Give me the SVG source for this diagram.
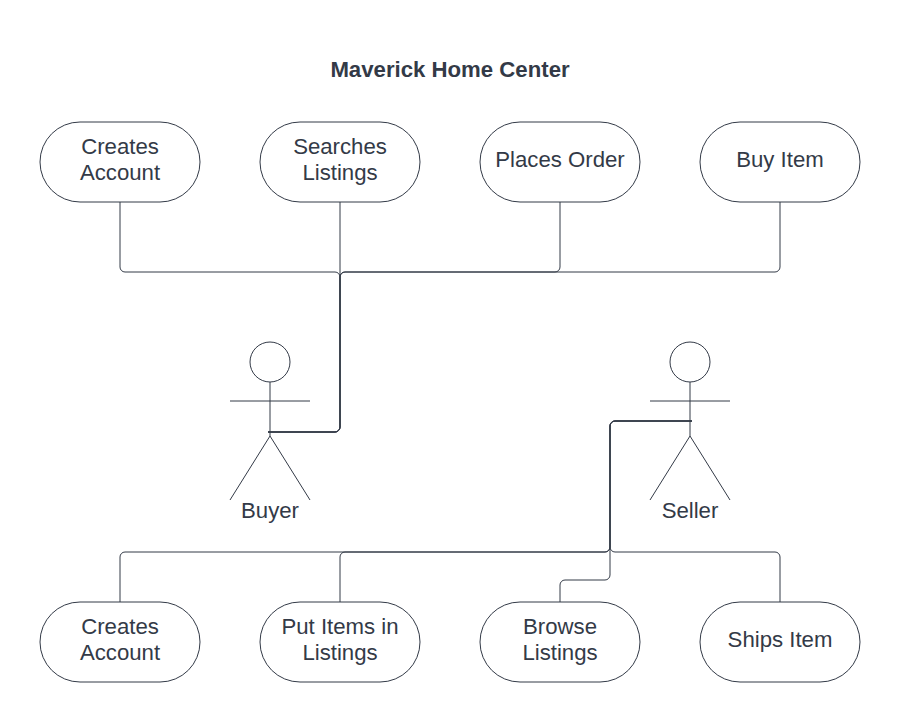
<svg xmlns="http://www.w3.org/2000/svg" width="900" height="722" viewBox="0 0 900 722">
<style>
text{font-family:"Liberation Sans",Arial,sans-serif;fill:#333a47;font-size:22.2px;text-anchor:middle}
.n{fill:#fff;stroke:#333a47;stroke-width:1}
.c{fill:none;stroke:#333a47;stroke-width:1}
.a{fill:none;stroke:#333a47;stroke-width:1}
</style>
<rect width="900" height="722" fill="#fff"/>
<text x="450" y="77" style="font-weight:700">Maverick Home Center</text>
<g id="connectors">
<path class="c" d="M120 202V267a5 5 0 0 0 5 5H335a5 5 0 0 1 5 5V427a5 5 0 0 1-5 5H268"/>
<path class="c" d="M340 202V427a5 5 0 0 1-5 5H268"/>
<path class="c" d="M560 202V267a5 5 0 0 1-5 5H345a5 5 0 0 0-5 5V427a5 5 0 0 1-5 5H268"/>
<path class="c" d="M780 202V267a5 5 0 0 1-5 5H345a5 5 0 0 0-5 5V427a5 5 0 0 1-5 5H268"/>
<path class="c" d="M692 421H615a5 5 0 0 0-5 5V547a5 5 0 0 1-5 5H125a5 5 0 0 0-5 5V602"/>
<path class="c" d="M692 421H615a5 5 0 0 0-5 5V547a5 5 0 0 1-5 5H345a5 5 0 0 0-5 5V602"/>
<path class="c" d="M692 421H615a5 5 0 0 0-5 5V575a5 5 0 0 1-5 5H565a5 5 0 0 0-5 5V602"/>
<path class="c" d="M692 421H615a5 5 0 0 0-5 5V547a5 5 0 0 0 5 5H775a5 5 0 0 1 5 5V602"/>
</g>
<g id="uc1"><rect class="n" x="40" y="122" width="160" height="80" rx="40"/><text x="120" y="154">Creates</text><text x="120" y="180">Account</text></g>
<g id="uc2"><rect class="n" x="260" y="122" width="160" height="80" rx="40"/><text x="340" y="154">Searches</text><text x="340" y="180">Listings</text></g>
<g id="uc3"><rect class="n" x="480" y="122" width="160" height="80" rx="40"/><text x="560" y="167">Places Order</text></g>
<g id="uc4"><rect class="n" x="700" y="122" width="160" height="80" rx="40"/><text x="780" y="167">Buy Item</text></g>
<g id="uc5"><rect class="n" x="40" y="602" width="160" height="80" rx="40"/><text x="120" y="634">Creates</text><text x="120" y="660">Account</text></g>
<g id="uc6"><rect class="n" x="260" y="602" width="160" height="80" rx="40"/><text x="340" y="634">Put Items in</text><text x="340" y="660">Listings</text></g>
<g id="uc7"><rect class="n" x="480" y="602" width="160" height="80" rx="40"/><text x="560" y="634">Browse</text><text x="560" y="660">Listings</text></g>
<g id="uc8"><rect class="n" x="700" y="602" width="160" height="80" rx="40"/><text x="780" y="647">Ships Item</text></g>
<g id="buyer"><circle class="a" cx="270" cy="362" r="20"/><path class="a" d="M270 382V436M230 401H310M270 436L230 500M270 436L310 500"/><text x="270" y="518">Buyer</text></g>
<g id="seller"><circle class="a" cx="690" cy="362" r="20"/><path class="a" d="M690 382V436M650 401H730M690 436L650 500M690 436L730 500"/><text x="690" y="518">Seller</text></g>
</svg>
